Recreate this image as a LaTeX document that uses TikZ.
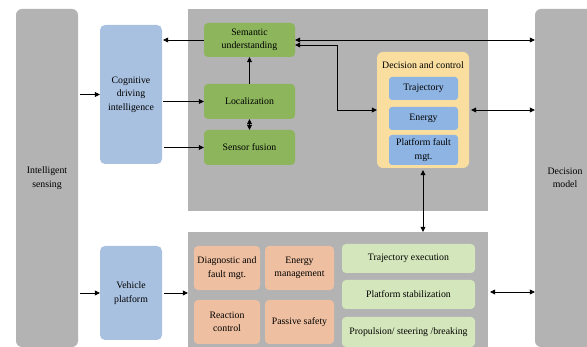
\documentclass[tikz,border=0pt]{standalone}
\usepackage{fontspec}
\setmainfont{Liberation Serif}
\usepackage{xcolor}
\usetikzlibrary{arrows.meta}

\definecolor{panelgray}{HTML}{B3B3B3}
\definecolor{cogblue}{HTML}{A9C1E1}
\definecolor{modgreen}{HTML}{8CB55C}
\definecolor{decyellow}{HTML}{F9DEA0}
\definecolor{subblue}{HTML}{8EB4E3}
\definecolor{fnorange}{HTML}{EFBFA1}
\definecolor{execgreen}{HTML}{D4E6BB}

\tikzset{
  every node/.style={font=\fontsize{9.8}{13.5}\selectfont, align=center, inner sep=0pt},
  column/.style={fill=panelgray, rounded corners=6pt},
  panel/.style={fill=panelgray},
  bluebox/.style={fill=cogblue, rounded corners=5pt, minimum width=62pt},
  greenbox/.style={fill=modgreen, rounded corners=4pt, minimum width=91pt},
  subbox/.style={fill=subblue, rounded corners=3pt, minimum width=69pt},
  fnbox/.style={fill=fnorange, rounded corners=4pt, minimum height=44pt},
  execbox/.style={fill=execgreen, rounded corners=4pt, minimum width=133pt},
  >={Triangle[length=5pt,width=5pt]},
  link/.style={line width=0.7pt}
}

\begin{document}
\begin{tikzpicture}[x=1pt,y=-1pt]
        \clip (0,0) rectangle (587,347);

        % outer columns and panels
        \node[column, minimum width=62pt, minimum height=338pt] (sensing) at (47,178) {Intelligent\\sensing};
        \node[column, minimum width=60pt, minimum height=338pt] (dmodel) at (565,178) {Decision\\model};
        \node[panel, minimum width=300pt, minimum height=202pt] (upper) at (338,110) {};
        \node[panel, minimum width=300pt, minimum height=120pt] (lower) at (338,292) {};

        % left blue boxes
        \node[bluebox, minimum height=139pt] (cdi) at (131,94.5) {Cognitive\\driving\\intelligence};
        \node[bluebox, minimum height=94pt] (vplat) at (131,293) {Vehicle\\platform};

        % perception chain
        \node[greenbox, minimum height=34pt] (sem) at (249.5,40) {Semantic\\understanding};
        \node[greenbox, minimum height=35pt] (loc) at (249.5,101.5) {Localization};
        \node[greenbox, minimum height=35pt] (fus) at (249.5,147.5) {Sensor fusion};

        % decision and control
        \node[fill=decyellow, rounded corners=6pt, minimum width=92pt, minimum height=116pt] (dec) at (423,110) {};
        \node (dectitle) at (423,65) {Decision and control};
        \node[subbox, minimum height=23pt] (traj) at (423.5,88.5) {Trajectory};
        \node[subbox, minimum height=23pt] (ener) at (423.5,118.5) {Energy};
        \node[subbox, minimum height=30pt] (pfm) at (423.5,150) {Platform fault\\mgt.};

        % vehicle functions
        \node[fnbox, minimum width=66pt] (diag) at (227,268) {Diagnostic and\\fault mgt.};
        \node[fnbox, minimum width=69pt] (emgmt) at (299.5,268) {Energy\\management};
        \node[fnbox, minimum width=66pt] (react) at (227,322) {Reaction\\control};
        \node[fnbox, minimum width=69pt] (psafe) at (299.5,322) {Passive safety};
        \node[execbox, minimum height=29pt] (texec) at (408.5,258.5) {Trajectory execution};
        \node[execbox, minimum height=29pt] (pstab) at (408.5,294.5) {Platform stabilization};
        \node[execbox, minimum height=30pt] (prop) at (408.5,332) {Propulsion/ steering /breaking};

        % connectors
        \draw[link, ->] ([xshift=2pt]sensing.east |- cdi) -- (cdi.west);
        \draw[link, ->] ([xshift=2pt]sensing.east |- vplat) -- (vplat.west);
        \draw[link, ->] ([xshift=1pt]cdi.east |- loc) -- (loc.west);
        \draw[link, ->] ([xshift=2pt]cdi.east |- fus) -- (fus.west);
        \draw[link, ->] (sem.west) -- ([xshift=1pt]cdi.east |- sem);
        \draw[link, ->] (loc.north) -- (sem.south);
        \draw[link, <->] (loc.south) -- (fus.north);
        \draw[link, <->] (sem.east) -- (dmodel.west |- sem);
        \draw[link, <->] ([yshift=-5pt]sem.east) -- ++(42,0) |- (dec.west);
        \draw[link, <->] ([xshift=2pt]dec.east) -- (dmodel.west |- dec.east);
        \draw[link, <->] ([yshift=-2pt]dec.south) -- (dec.south |- lower.north);
        \draw[link, ->] ([xshift=2pt]vplat.east) -- (lower.west |- vplat);
        \draw[link, <->] ([xshift=2pt]lower.east) -- (dmodel.west |- lower.east);
    \end{tikzpicture}
\end{document}
